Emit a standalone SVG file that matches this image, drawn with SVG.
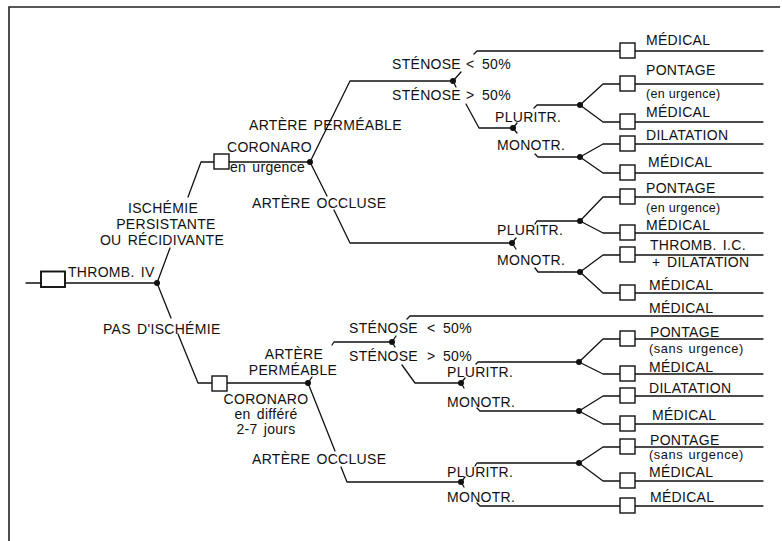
<svg xmlns="http://www.w3.org/2000/svg" width="782" height="541" viewBox="0 0 782 541">
<style>
.ln{fill:none;stroke:#111;stroke-width:1.3;stroke-linejoin:round;stroke-linecap:round}
.fr{fill:none;stroke:#222;stroke-width:1.6}
.bx{fill:#fff;stroke:#111;stroke-width:1.4}
.rb{fill:#fff;stroke:#111;stroke-width:1.9}
.dot{fill:#111}
text{font-family:"Liberation Sans",Arial,Helvetica,sans-serif;font-size:14px;letter-spacing:0.3px;word-spacing:2px;fill:#111}
.sm{font-size:12.5px;letter-spacing:0.3px;word-spacing:0}
.md{font-size:12.8px;letter-spacing:0.6px;word-spacing:1px}
.c{text-anchor:middle}
</style>
<rect width="782" height="541" fill="#fff"/>
<path class="fr" d="M9,541 V7 H780"/>
<g id="connectors">
<path class="ln" d="M26,283 H41 M65,283 H157"/>
<path class="ln" d="M157,283 L170,248 M188,197 L201,162 H214"/>
<path class="ln" d="M157,283 L171,318 M178,334 L198,383 H212"/>
<path class="ln" d="M229,162 H310"/>
<path class="ln" d="M310,162 L350,81 H453"/>
<path class="ln" d="M310,162 L327,196 M334,210 L350,243 H512"/>
<path class="ln" d="M453,81 L461,72 M474,54 L477,51 H620 M453,81 L456,87 M466,104 L479,128 H513"/>
<path class="ln" d="M513,128 L517,123 M534,108 L537,105 H580 M513,128 L517,133 M535,154 L538,157 H580"/>
<path class="ln" d="M580,105 L603,84 H620 M580,105 L603,122 H620"/>
<path class="ln" d="M580,157 L603,144 H620 M580,157 L603,173 H620"/>
<path class="ln" d="M512,243 L516,238 M535,224 L537,221 H580 M512,243 L516,249 M535,268 L538,272 H580"/>
<path class="ln" d="M580,221 L603,197 H620 M580,221 L603,233 H620"/>
<path class="ln" d="M580,272 L603,255 H620 M580,272 L603,293 H620"/>
<path class="ln" d="M227,383 H308"/>
<path class="ln" d="M308,383 L312,377 M332,345 L334,342 H392"/>
<path class="ln" d="M308,383 L335,451 M341,467 L347,482 H461"/>
<path class="ln" d="M392,342 L396,336 M407,319 L410,316 H763 M392,342 L395,347 M402,365 L415,383 H461"/>
<path class="ln" d="M461,383 L465,378 M476,364 L478,362 H579 M461,383 L464,388 M477,408 L480,411 H579"/>
<path class="ln" d="M579,362 L603,339 H620 M579,362 L603,374 H620"/>
<path class="ln" d="M579,411 L603,396 H620 M579,411 L603,424 H620"/>
<path class="ln" d="M461,482 L465,477 M475,466 L477,463 H579 M461,482 L464,487 M477,503 L480,506 H620"/>
<path class="ln" d="M579,463 L603,447 H620 M579,463 L603,481 H620"/>
<path class="ln" d="M635,51 H763 M635,84 H763 M635,122 H763 M635,144 H763 M635,173 H763 M635,197 H763 M635,233 H763 M635,255 H763 M635,293 H763 M635,339 H763 M635,374 H763 M635,396 H763 M635,424 H763 M635,447 H763 M635,481 H763 M635,506 H763"/>
</g>
<g id="n-thromb-iv"><rect class="rb" x="41" y="271.5" width="24" height="15.5"/><text x="68" y="277">THROMB. IV</text></g>
<g id="c-ischemie"><circle class="dot" cx="157" cy="283" r="3"/>
<text class="c" x="163" y="213">ISCHÉMIE</text><text class="c" x="166" y="229">PERSISTANTE</text><text class="c" x="162" y="245">OU RÉCIDIVANTE</text>
<text x="103" y="334">PAS D'ISCHÉMIE</text></g>
<g id="n-coronaro-urgence"><rect class="bx" x="214" y="154" width="15" height="15"/><text x="227" y="152">CORONARO</text><text x="230" y="172">en urgence</text></g>
<g id="c-artere-1"><circle class="dot" cx="310" cy="162" r="3"/><text x="249" y="130">ARTÈRE PERMÉABLE</text><text x="252" y="208">ARTÈRE OCCLUSE</text></g>
<g id="c-stenose-1"><circle class="dot" cx="453" cy="81" r="3"/><text x="392" y="68.5">STÉNOSE<tspan x="466">&lt;</tspan><tspan x="482">50%</tspan></text><text x="392" y="100">STÉNOSE<tspan x="466">&gt;</tspan><tspan x="482">50%</tspan></text></g>
<g id="c-tronc-1"><circle class="dot" cx="513" cy="128" r="3"/><text x="495" y="122">PLURITR.</text><text x="497" y="150">MONOTR.</text></g>
<g id="c-pluri-1"><circle class="dot" cx="580" cy="105" r="3"/></g>
<g id="c-mono-1"><circle class="dot" cx="580" cy="157" r="3"/></g>
<g id="c-tronc-2"><circle class="dot" cx="512" cy="243" r="3"/><text x="497" y="235">PLURITR.</text><text x="497" y="265">MONOTR.</text></g>
<g id="c-pluri-2"><circle class="dot" cx="580" cy="221" r="3"/></g>
<g id="c-mono-2"><circle class="dot" cx="580" cy="272" r="3"/></g>
<g id="n-coronaro-differe"><rect class="bx" x="212" y="376" width="15" height="15"/><text class="c" x="266" y="404">CORONARO</text><text class="c" x="266" y="419">en différé</text><text class="c" x="266" y="434">2-7 jours</text></g>
<g id="c-artere-2"><circle class="dot" cx="308" cy="383" r="3"/><text class="c" x="294" y="359">ARTÈRE</text><text class="c" x="293" y="375">PERMÉABLE</text><text x="252" y="464">ARTÈRE OCCLUSE</text></g>
<g id="c-stenose-2"><circle class="dot" cx="392" cy="342" r="3"/><text x="349" y="333">STÉNOSE<tspan x="427">&lt;</tspan><tspan x="443">50%</tspan></text><text x="349" y="361">STÉNOSE<tspan x="427">&gt;</tspan><tspan x="443">50%</tspan></text></g>
<g id="c-tronc-3"><circle class="dot" cx="461" cy="383" r="3"/><text x="447" y="377">PLURITR.</text><text x="447" y="407">MONOTR.</text></g>
<g id="c-pluri-3"><circle class="dot" cx="579" cy="362" r="3"/></g>
<g id="c-mono-3"><circle class="dot" cx="579" cy="411" r="3"/></g>
<g id="c-tronc-4"><circle class="dot" cx="461" cy="482" r="3"/><text x="447" y="477">PLURITR.</text><text x="447" y="502">MONOTR.</text></g>
<g id="c-pluri-4"><circle class="dot" cx="579" cy="463" r="3"/></g>
<g id="t1"><rect class="bx" x="620" y="43" width="15" height="15"/><text x="646" y="44.5">MÉDICAL</text></g>
<g id="t2"><rect class="bx" x="620" y="76" width="15" height="15"/><text x="646" y="75">PONTAGE</text><text class="sm" x="646" y="98">(en urgence)</text></g>
<g id="t3"><rect class="bx" x="620" y="114" width="15" height="15"/><text x="646" y="117">MÉDICAL</text></g>
<g id="t4"><rect class="bx" x="620" y="136" width="15" height="15"/><text x="646" y="140">DILATATION</text></g>
<g id="t5"><rect class="bx" x="620" y="165" width="15" height="15"/><text x="648" y="167">MÉDICAL</text></g>
<g id="t6"><rect class="bx" x="620" y="189" width="15" height="15"/><text x="646" y="193">PONTAGE</text><text class="sm" x="646" y="212">(en urgence)</text></g>
<g id="t7"><rect class="bx" x="620" y="225" width="15" height="15"/><text x="646" y="230">MÉDICAL</text></g>
<g id="t8"><rect class="bx" x="620" y="247" width="15" height="15"/><text x="650" y="250">THROMB. I.C.</text><text x="652" y="267">+<tspan x="667">DILATATION</tspan></text></g>
<g id="t9"><rect class="bx" x="620" y="285" width="15" height="15"/><text x="649" y="290">MÉDICAL</text></g>
<g id="t10"><text x="649" y="313">MÉDICAL</text></g>
<g id="t11"><rect class="bx" x="620" y="331" width="15" height="15"/><text x="650" y="336.5">PONTAGE</text><text class="md" x="649" y="353">(sans urgence)</text></g>
<g id="t12"><rect class="bx" x="620" y="366" width="15" height="15"/><text x="649" y="372">MÉDICAL</text></g>
<g id="t13"><rect class="bx" x="620" y="388" width="15" height="15"/><text x="649" y="393">DILATATION</text></g>
<g id="t14"><rect class="bx" x="620" y="416" width="15" height="15"/><text x="652" y="420">MÉDICAL</text></g>
<g id="t15"><rect class="bx" x="620" y="439" width="15" height="15"/><text x="650" y="444.5">PONTAGE</text><text class="md" x="649" y="459">(sans urgence)</text></g>
<g id="t16"><rect class="bx" x="620" y="473" width="15" height="15"/><text x="649" y="477">MÉDICAL</text></g>
<g id="t17"><rect class="bx" x="620" y="498" width="15" height="15"/><text x="650" y="502">MÉDICAL</text></g>
</svg>
